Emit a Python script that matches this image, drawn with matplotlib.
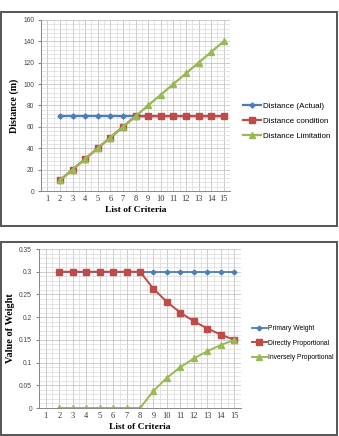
import numpy as np
import matplotlib
matplotlib.use('Agg')
import matplotlib.pyplot as plt
from matplotlib.patches import Rectangle
from matplotlib.ticker import MultipleLocator

# Data
criteria = list(range(2, 16))
x_ticks = list(range(1, 16))

dist_actual = [70] * 14
dist_condition = [10, 20, 30, 40, 50, 60, 70, 70, 70, 70, 70, 70, 70, 70]
dist_limit = [10, 20, 30, 40, 50, 60, 70, 80, 90, 100, 110, 120, 130, 140]

primary_weight = [0.3] * 14
direct_prop = [0.3, 0.3, 0.3, 0.3, 0.3, 0.3, 0.3, 0.2625, 0.2333, 0.21, 0.1909, 0.175, 0.1615, 0.15]
inverse_prop = [0, 0, 0, 0, 0, 0, 0, 0.0375, 0.0667, 0.09, 0.1091, 0.125, 0.1385, 0.15]

BLUE = '#4a7ebb'
RED = '#be4b48'
GREEN = '#98b954'
serif = 'Liberation Serif'
sans = 'Liberation Sans'

fig = plt.figure(figsize=(3.39, 4.36), dpi=100)
W, H = 339.0, 436.0


def px_axes(left, top, right, bottom):
    return fig.add_axes([left / W, 1 - bottom / H, (right - left) / W, (bottom - top) / H])


def style_axes(ax, ymax, ymajor, yminor, yfmt):
    ax.set_xlim(0.5, 15.5)
    ax.set_ylim(0, ymax)
    ax.xaxis.set_minor_locator(MultipleLocator(0.5))
    ax.yaxis.set_minor_locator(MultipleLocator(yminor))
    ax.set_xticks(x_ticks)
    ax.set_xticklabels([str(v) for v in x_ticks], fontsize=6, family=serif, color='#333333')
    yt = np.arange(0, ymax + ymajor / 2, ymajor)
    ax.set_yticks(yt)
    ax.set_yticklabels([yfmt(v) for v in yt], fontsize=4.8, family=sans, color='#444444')
    ax.grid(which='minor', color='#dadada', linewidth=0.5)
    ax.grid(which='major', color='#c4c4c4', linewidth=0.6)
    ax.set_axisbelow(True)
    ax.tick_params(axis='x', which='major', length=0, pad=3)
    ax.tick_params(axis='x', which='minor', length=0)
    ax.tick_params(axis='y', which='major', length=2, color='#888888', pad=3)
    ax.tick_params(axis='y', which='minor', length=0)
    for s in ['top', 'right']:
        ax.spines[s].set_visible(False)
    for s in ['left', 'bottom']:
        ax.spines[s].set_color('#888888')
        ax.spines[s].set_linewidth(0.7)


# frames round each chart
fig.patches.append(Rectangle((1 / W, 1 - 226 / H), 336 / W, 214 / H, transform=fig.transFigure,
                             fill=False, edgecolor='#555555', linewidth=1.4))
fig.patches.append(Rectangle((1 / W, 1 / H), 336 / W, 193 / H, transform=fig.transFigure,
                             fill=False, edgecolor='#555555', linewidth=1.4))

# top chart
ax1 = px_axes(41, 20, 230, 191)
style_axes(ax1, 160, 20, 4, lambda v: '%d' % v)
ax1.plot(criteria, dist_actual, color=BLUE, marker='D', markersize=2.6, linewidth=1.6, label='Distance (Actual)')
ax1.plot(criteria, dist_condition, color=RED, marker='s', markersize=4, linewidth=1.6, label='Distance condition')
ax1.plot(criteria, dist_limit, color=GREEN, marker='^', markersize=4, linewidth=1.6, label='Distance Limitation')
ax1.set_ylabel('Distance (m)', family=serif, fontweight='bold', fontsize=7.2, labelpad=3)
ax1.set_xlabel('List of Criteria', family=serif, fontweight='bold', fontsize=6.8, labelpad=2)
ax1.legend(loc='center left', bbox_to_anchor=(240 / W, 1 - 121 / H), bbox_transform=fig.transFigure,
           frameon=False, prop={'family': sans, 'size': 5.8}, handlelength=2.2, handletextpad=0.2,
           labelspacing=0.9, borderaxespad=0)

# bottom chart
ax2 = px_axes(39, 249, 241, 408)
style_axes(ax2, 0.35, 0.05, 0.01, lambda v: ('%.2f' % v).rstrip('0').rstrip('.') if v > 0 else '0')
ax2.plot(criteria, primary_weight, color=BLUE, marker='D', markersize=2.4, linewidth=1.3, label='Primary Weight')
ax2.plot(criteria, direct_prop, color=RED, marker='s', markersize=4, linewidth=1.4, label='Directly Proportional')
ax2.plot(criteria, inverse_prop, color=GREEN, marker='^', markersize=4, linewidth=1.4, label='Inversely Proportional')
ax2.set_ylabel('Value of Weight', family=serif, fontweight='bold', fontsize=7.4, labelpad=3)
ax2.set_xlabel('List of Criteria', family=serif, fontweight='bold', fontsize=6.8, labelpad=2)
ax2.legend(loc='center left', bbox_to_anchor=(249 / W, 1 - 343 / H), bbox_transform=fig.transFigure,
           frameon=False, prop={'family': sans, 'size': 4.9}, handlelength=2.2, handletextpad=0.2,
           labelspacing=1.1, borderaxespad=0)

fig.savefig('out.png', dpi=100)
